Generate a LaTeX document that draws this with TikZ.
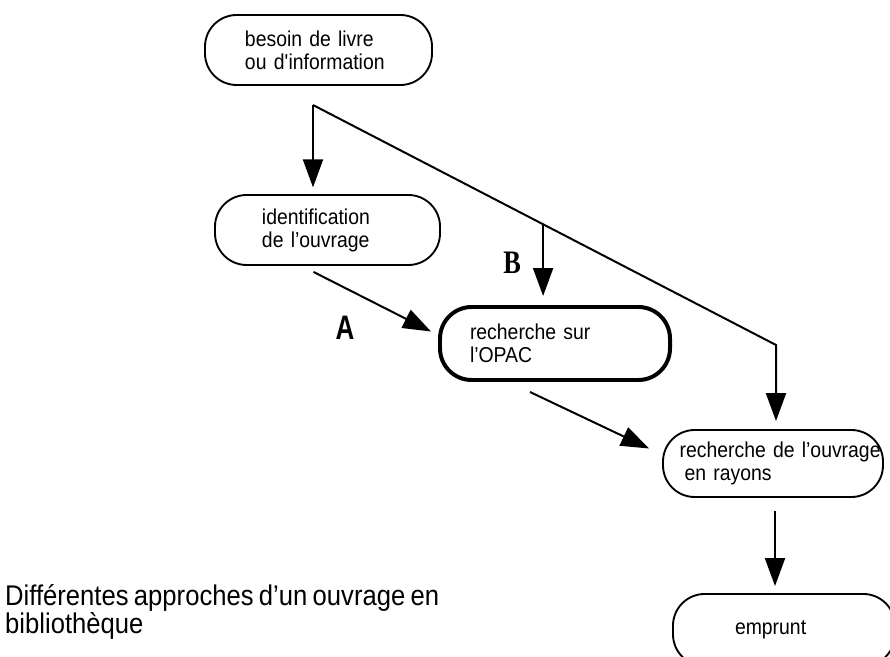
\documentclass[tikz,border=0pt]{standalone}
\usepackage{fontspec}
\setmainfont[FakeStretch=0.9,WordSpace=0.75]{Liberation Sans}
\newfontfamily\serifbold{Liberation Serif}
\usetikzlibrary{arrows.meta,calc}
\begin{document}
\begin{tikzpicture}[x=0.03cm,y=-0.03cm,every node/.style={font=\fontsize{18.4}{19.6}\selectfont},
  oval/.style={draw,line width=1.6pt,rounded corners=0.95cm,align=left,inner ysep=0pt},
  arr/.style={-{Triangle[length=0.84cm,width=0.6cm]},line width=1.7pt},
  lbl/.style={font=\fontsize{29}{29}\selectfont\bfseries,inner sep=0pt}]
\useasboundingbox (0,0) rectangle (890,657);
\node[oval,text width=4.41cm,inner xsep=1.2cm,minimum height=2.1cm] (need) at (318.5,50) {besoin~de~livre\\ou~d\textquotesingle information};
\node[oval,text width=3.93cm,inner xsep=1.41cm,minimum height=2.1cm] (ident) at (327.5,230) {identification\\de~l’ouvrage};
\node[oval,line width=3.4pt,text width=5.1cm,inner xsep=0.9cm,minimum height=2.19cm] (opac) at (555,343.5) {recherche~sur\\l’OPAC};
\node[oval,text width=5.6cm,inner xsep=0.5cm,minimum height=2.01cm] (rayons) at (773,463.5) {recherche~de~l’ouvrage\\\hspace*{0.15cm}en~rayons};
\node[oval,text width=2.94cm,inner xsep=1.86cm,minimum height=2.16cm] (emprunt) at (784,630) {emprunt};
\node[lbl] (la) at (345,328) {\scalebox{0.85}[1]{A}};
\node[lbl,font=\fontsize{28}{28}\selectfont\serifbold\bfseries] (lb) at (512,263) {\scalebox{0.8}[1]{B}};
\node[align=left,anchor=west,inner sep=0pt,font=\fontsize{24.3}{17.9}\selectfont] (caption) at (5,612) {Différentes approches d’un ouvrage en\\bibliothèque};
\coordinate (fork) at (313,105); \coordinate (bend) at (776,345);
\coordinate (split) at ($(fork)!0.497!(bend)$);
\draw[arr,shorten >=0.2cm] (fork)--(fork |- ident.north);
\draw[arr,shorten >=0.24cm] (fork)--(bend)--(bend |- rayons.north);
\draw[arr,shorten >=0.27cm] (split)--(split |- opac.north);
\draw[arr] ($(ident.south)+(-14,6)$)--($(opac.west)+(-7,-12)$);
\draw[arr] ($(opac.south)+(-25,10)$)--($(rayons.west)+(-13,-15)$);
\draw[arr] ($(rayons.south)+(2,13)$)--($(rayons.south |- emprunt.north)+(2,-7)$);
\end{tikzpicture}
\end{document}
